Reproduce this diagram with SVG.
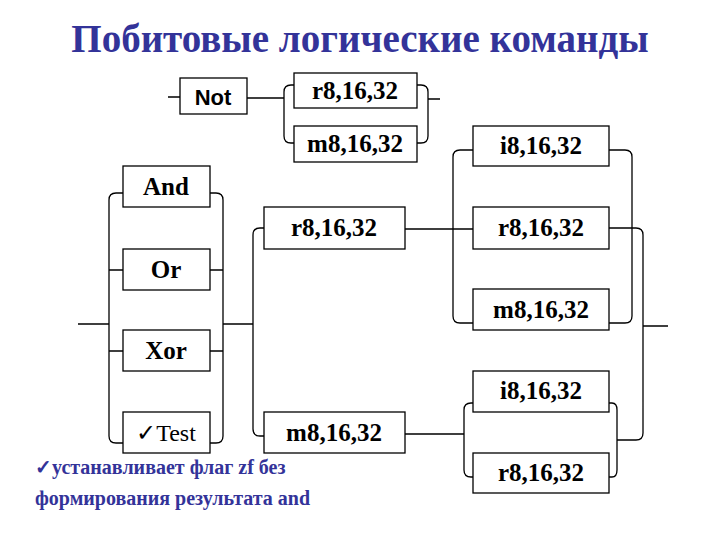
<svg xmlns="http://www.w3.org/2000/svg" width="720" height="540" viewBox="0 0 720 540">
<style>
.b{fill:#fff;stroke:#000;stroke-width:1.3}
.t{font-family:"Liberation Serif","Times New Roman","DejaVu Serif",serif;font-weight:bold;font-size:25px;text-anchor:middle}
.s{font-family:"Liberation Serif","Times New Roman","DejaVu Serif",serif}
.c{fill:none;stroke:#000;stroke-width:1.3}
</style>
<rect width="720" height="540" fill="#fff"/>
<text class="s" x="360" y="52" font-weight="bold" font-size="39" fill="#333399" text-anchor="middle">Побитовые логические команды</text>
<g id="connectors" class="c">
<path d="M168 97H180M247 98H284"/>
<path d="M294 85H291Q284 85 284 92V136Q284 143 291 143H294"/>
<path d="M417 85H421Q428 85 428 92V136Q428 143 421 143H417M428 99H440"/>
<path d="M123 193H116Q109 193 109 200V436Q109 443 116 443H123"/>
<path d="M210 193H216Q223 193 223 200V436Q223 443 216 443H210"/>
<path d="M109 270H123M210 270H223M109 351H123M210 351H223M78 324H109M223 324H253"/>
<path d="M264 228H260Q253 228 253 235V429Q253 436 260 436H264"/>
<path d="M405 229H473M405 434H464"/>
<path d="M473 150H460Q453 150 453 157V316Q453 323 460 323H473"/>
<path d="M609 150H625Q632 150 632 157V316Q632 323 625 323H609"/>
<path d="M473 403H471Q464 403 464 410V470Q464 477 471 477H473"/>
<path d="M609 403H612Q617 403 617 410V470Q617 477 612 477H609M617 440H636Q643 440 643 433V235Q643 228 636 228H609M643 326H668"/>
</g>
<g id="not"><rect class="b" x="180" y="78" width="67" height="36"/><text x="213" y="105" font-family="Liberation Sans,Arial,sans-serif" font-weight="bold" font-size="22" text-anchor="middle">Not</text></g>
<g id="r1"><rect class="b" x="294" y="73" width="123" height="35"/><text class="t" x="355" y="99">r8,16,32</text></g>
<g id="m1"><rect class="b" x="294" y="126" width="123" height="36"/><text class="t" x="355" y="152">m8,16,32</text></g>
<g id="and"><rect class="b" x="123" y="166" width="87" height="41"/><text class="t" x="166" y="195">And</text></g>
<g id="or"><rect class="b" x="123" y="249" width="87" height="41"/><text class="t" x="166" y="278">Or</text></g>
<g id="xor"><rect class="b" x="123" y="330" width="87" height="41"/><text class="t" x="166" y="359">Xor</text></g>
<g id="test"><rect class="b" x="123" y="412" width="87" height="41"/><text class="s" x="166" y="441" font-size="24" text-anchor="middle">✓Test</text></g>
<g id="r2"><rect class="b" x="264" y="207" width="141" height="42"/><text class="t" x="334" y="236">r8,16,32</text></g>
<g id="m2"><rect class="b" x="264" y="412" width="141" height="41"/><text class="t" x="334" y="441">m8,16,32</text></g>
<g id="i3"><rect class="b" x="473" y="126" width="136" height="40"/><text class="t" x="541" y="154">i8,16,32</text></g>
<g id="r3"><rect class="b" x="473" y="207" width="136" height="42"/><text class="t" x="541" y="236">r8,16,32</text></g>
<g id="m3"><rect class="b" x="473" y="289" width="136" height="41"/><text class="t" x="541" y="318">m8,16,32</text></g>
<g id="i4"><rect class="b" x="473" y="371" width="136" height="41"/><text class="t" x="541" y="399">i8,16,32</text></g>
<g id="r4"><rect class="b" x="473" y="453" width="136" height="40"/><text class="t" x="541" y="481">r8,16,32</text></g>
<g id="note" class="s" font-weight="bold" font-size="20" fill="#333399">
<text x="35" y="474">✓устанавливает флаг zf без</text>
<text x="35" y="505">формирования результата and</text>
</g>
</svg>
